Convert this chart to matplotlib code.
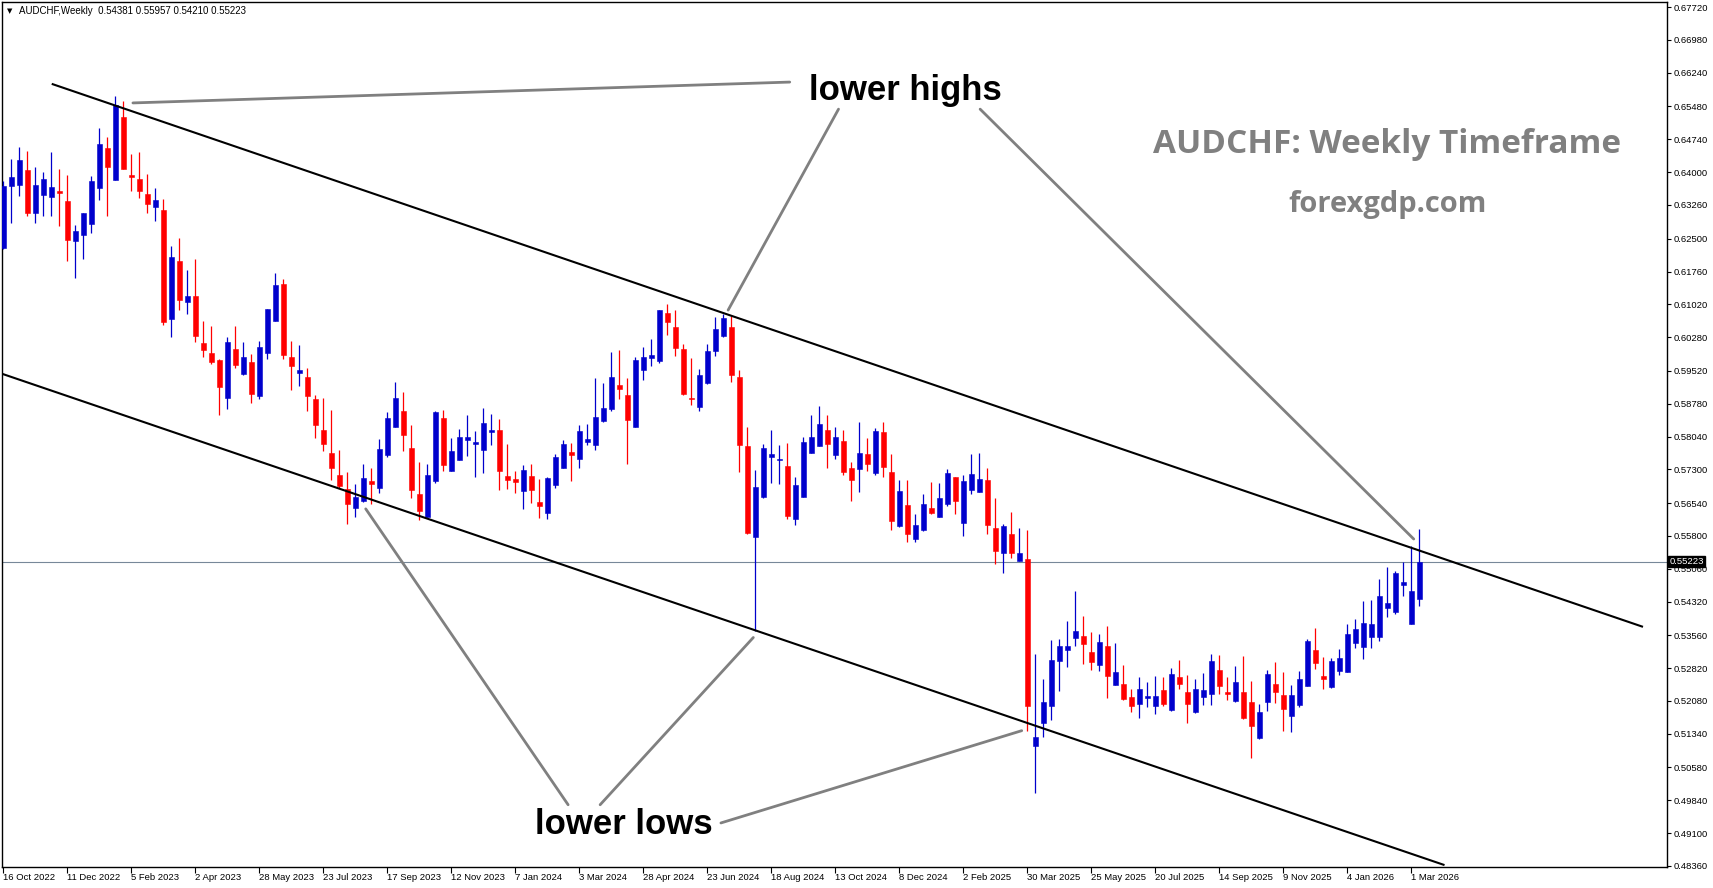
import matplotlib
matplotlib.use("Agg")
import matplotlib.pyplot as plt
import matplotlib.transforms as mtransforms
import numpy as np

# ---------------- data (AUDCHF weekly, first bar = week of 16 Oct 2022) -------------
opens = [0.6229, 0.6369, 0.6371, 0.6405, 0.6308, 0.6349, 0.6344, 0.6358, 0.6335, 0.6245,
         0.6258, 0.6283, 0.6364, 0.6454, 0.6382, 0.6524, 0.6394, 0.6385, 0.6351, 0.6321,
         0.6315, 0.6069, 0.6200, 0.6107, 0.6121, 0.6015, 0.5992, 0.5977, 0.5891, 0.6001,
         0.5945, 0.5972, 0.5895, 0.5992, 0.6065, 0.6148, 0.5983, 0.5947, 0.5938, 0.5889,
         0.5819, 0.5767, 0.5717, 0.5686, 0.5643, 0.5659, 0.5704, 0.5688, 0.5762, 0.5826,
         0.5862, 0.5778, 0.5675, 0.5623, 0.5704, 0.5846, 0.5726, 0.5751, 0.5796, 0.5787,
         0.5774, 0.5814, 0.5819, 0.5715, 0.5708, 0.5681, 0.5715, 0.5657, 0.5632, 0.5695,
         0.5733, 0.5769, 0.5753, 0.5792, 0.5785, 0.5839, 0.5866, 0.5920, 0.5898, 0.5826,
         0.5954, 0.5981, 0.5974, 0.6083, 0.6051, 0.6001, 0.5891, 0.5871, 0.5925, 0.5997,
         0.6031, 0.6051, 0.5938, 0.5783, 0.5578, 0.5668, 0.5758, 0.5751, 0.5738, 0.5618,
         0.5668, 0.5767, 0.5783, 0.5819, 0.5762, 0.5794, 0.5733, 0.5731, 0.5765, 0.5722,
         0.5814, 0.5724, 0.5602, 0.5650, 0.5573, 0.5593, 0.5643, 0.5623, 0.5652, 0.5713,
         0.5609, 0.5684, 0.5679, 0.5706, 0.5598, 0.5542, 0.5584, 0.5524, 0.5528, 0.5107,
         0.5158, 0.5197, 0.5298, 0.5323, 0.5350, 0.5354, 0.5318, 0.5289, 0.5332, 0.5244,
         0.5246, 0.5217, 0.5201, 0.5215, 0.5197, 0.5233, 0.5188, 0.5262, 0.5228, 0.5183,
         0.5217, 0.5224, 0.5278, 0.5228, 0.5208, 0.5228, 0.5206, 0.5125, 0.5206, 0.5246,
         0.5222, 0.5174, 0.5199, 0.5242, 0.5323, 0.5264, 0.5240, 0.5276, 0.5273, 0.5339,
         0.5330, 0.5352, 0.5352, 0.5418, 0.5409, 0.5469, 0.5382, 0.54381]
highs = [0.6380, 0.6430, 0.6457, 0.6448, 0.6412, 0.6400, 0.6445, 0.6407, 0.6394, 0.6281,
         0.6308, 0.6391, 0.6500, 0.6479, 0.6572, 0.6560, 0.6441, 0.6445, 0.6396, 0.6364,
         0.6340, 0.6234, 0.6252, 0.6179, 0.6204, 0.6065, 0.6053, 0.5979, 0.6028, 0.6053,
         0.6017, 0.5990, 0.6019, 0.6092, 0.6173, 0.6159, 0.6019, 0.6010, 0.5959, 0.5898,
         0.5891, 0.5864, 0.5774, 0.5724, 0.5697, 0.5742, 0.5733, 0.5799, 0.5859, 0.5927,
         0.5904, 0.5830, 0.5747, 0.5742, 0.5862, 0.5864, 0.5801, 0.5821, 0.5853, 0.5817,
         0.5868, 0.5855, 0.5844, 0.5787, 0.5726, 0.5740, 0.5742, 0.5708, 0.5713, 0.5765,
         0.5796, 0.5790, 0.5830, 0.5832, 0.5936, 0.5925, 0.5995, 0.5999, 0.5936, 0.5983,
         0.6006, 0.6024, 0.6089, 0.6103, 0.6089, 0.6013, 0.5981, 0.5956, 0.6013, 0.6073,
         0.6080, 0.6076, 0.5954, 0.5826, 0.5729, 0.5787, 0.5819, 0.5785, 0.5790, 0.5713,
         0.5803, 0.5853, 0.5873, 0.5853, 0.5826, 0.5819, 0.5747, 0.5837, 0.5801, 0.5823,
         0.5837, 0.5765, 0.5706, 0.5706, 0.5629, 0.5675, 0.5702, 0.5699, 0.5731, 0.5713,
         0.5717, 0.5765, 0.5767, 0.5733, 0.5666, 0.5607, 0.5634, 0.5598, 0.5593, 0.5314,
         0.5258, 0.5345, 0.5348, 0.5388, 0.5456, 0.5400, 0.5363, 0.5359, 0.5377, 0.5339,
         0.5289, 0.5235, 0.5262, 0.5251, 0.5264, 0.5262, 0.5282, 0.5300, 0.5267, 0.5258,
         0.5271, 0.5314, 0.5312, 0.5262, 0.5287, 0.5309, 0.5253, 0.5201, 0.5278, 0.5296,
         0.5273, 0.5244, 0.5276, 0.5348, 0.5373, 0.5307, 0.5305, 0.5325, 0.5382, 0.5393,
         0.5433, 0.5436, 0.5483, 0.5510, 0.5501, 0.5521, 0.5557, 0.55957]
lows = [0.6227, 0.6285, 0.6346, 0.6301, 0.6285, 0.6301, 0.6301, 0.6279, 0.6200, 0.6161,
        0.6204, 0.6263, 0.6337, 0.6301, 0.6382, 0.6407, 0.6358, 0.6342, 0.6308, 0.6290,
        0.6055, 0.6028, 0.6089, 0.6080, 0.6017, 0.5983, 0.5968, 0.5853, 0.5866, 0.5959,
        0.5943, 0.5880, 0.5889, 0.5979, 0.6065, 0.5979, 0.5909, 0.5918, 0.5862, 0.5801,
        0.5771, 0.5706, 0.5688, 0.5607, 0.5623, 0.5657, 0.5652, 0.5677, 0.5758, 0.5826,
        0.5771, 0.5666, 0.5616, 0.5623, 0.5699, 0.5726, 0.5726, 0.5751, 0.5760, 0.5713,
        0.5722, 0.5785, 0.5684, 0.5686, 0.5677, 0.5641, 0.5654, 0.5620, 0.5618, 0.5688,
        0.5733, 0.5704, 0.5733, 0.5785, 0.5774, 0.5837, 0.5862, 0.5889, 0.5742, 0.5826,
        0.5932, 0.5963, 0.5970, 0.6033, 0.5986, 0.5898, 0.5875, 0.5862, 0.5922, 0.5986,
        0.6028, 0.5927, 0.5724, 0.5584, 0.5366, 0.5666, 0.5699, 0.5697, 0.5618, 0.5605,
        0.5668, 0.5767, 0.5783, 0.5733, 0.5753, 0.5717, 0.5659, 0.5679, 0.5726, 0.5717,
        0.5713, 0.5593, 0.5600, 0.5566, 0.5566, 0.5591, 0.5629, 0.5623, 0.5647, 0.5629,
        0.5580, 0.5675, 0.5679, 0.5584, 0.5517, 0.5497, 0.5530, 0.5524, 0.5140, 0.5001,
        0.5127, 0.5165, 0.5231, 0.5285, 0.5332, 0.5291, 0.5278, 0.5276, 0.5215, 0.5244,
        0.5210, 0.5183, 0.5170, 0.5194, 0.5179, 0.5197, 0.5185, 0.5235, 0.5158, 0.5181,
        0.5199, 0.5199, 0.5224, 0.5210, 0.5206, 0.5167, 0.5080, 0.5122, 0.5185, 0.5203,
        0.5140, 0.5138, 0.5194, 0.5242, 0.5280, 0.5235, 0.5237, 0.5267, 0.5273, 0.5327,
        0.5303, 0.5327, 0.5343, 0.5397, 0.5404, 0.5445, 0.5382, 0.54210]
closes = [0.6369, 0.6389, 0.6427, 0.6308, 0.6371, 0.6385, 0.6367, 0.6353, 0.6247, 0.6267,
          0.6308, 0.6380, 0.6463, 0.6412, 0.6551, 0.6407, 0.6389, 0.6358, 0.6328, 0.6337,
          0.6062, 0.6209, 0.6112, 0.6121, 0.6031, 0.5999, 0.5972, 0.5916, 0.6017, 0.5965,
          0.5983, 0.5900, 0.6006, 0.6092, 0.6146, 0.5988, 0.5963, 0.5954, 0.5895, 0.5830,
          0.5787, 0.5733, 0.5693, 0.5652, 0.5668, 0.5711, 0.5697, 0.5776, 0.5846, 0.5891,
          0.5808, 0.5684, 0.5636, 0.5717, 0.5859, 0.5740, 0.5771, 0.5803, 0.5803, 0.5792,
          0.5835, 0.5819, 0.5726, 0.5706, 0.5702, 0.5729, 0.5684, 0.5647, 0.5711, 0.5758,
          0.5787, 0.5762, 0.5817, 0.5799, 0.5848, 0.5868, 0.5938, 0.5911, 0.5841, 0.5977,
          0.5983, 0.5988, 0.6089, 0.6062, 0.6004, 0.5900, 0.5889, 0.5943, 0.5997, 0.6046,
          0.6071, 0.5943, 0.5785, 0.5587, 0.5690, 0.5778, 0.5765, 0.5753, 0.5625, 0.5695,
          0.5792, 0.5803, 0.5832, 0.5787, 0.5803, 0.5724, 0.5706, 0.5767, 0.5742, 0.5817,
          0.5735, 0.5614, 0.5681, 0.5584, 0.5605, 0.5652, 0.5632, 0.5666, 0.5722, 0.5659,
          0.5704, 0.5720, 0.5708, 0.5605, 0.5546, 0.5602, 0.5542, 0.5542, 0.5197, 0.5127,
          0.5206, 0.5300, 0.5332, 0.5332, 0.5366, 0.5336, 0.5296, 0.5341, 0.5264, 0.5273,
          0.5213, 0.5197, 0.5235, 0.5219, 0.5219, 0.5201, 0.5269, 0.5246, 0.5201, 0.5235,
          0.5233, 0.5298, 0.5242, 0.5224, 0.5251, 0.5170, 0.5152, 0.5183, 0.5269, 0.5228,
          0.5190, 0.5222, 0.5258, 0.5343, 0.5294, 0.5258, 0.5298, 0.5305, 0.5359, 0.5370,
          0.5384, 0.5382, 0.5445, 0.5429, 0.5497, 0.5476, 0.5456, 0.55223]

date_labels = ["16 Oct 2022", "11 Dec 2022", "5 Feb 2023", "2 Apr 2023", "28 May 2023",
               "23 Jul 2023", "17 Sep 2023", "12 Nov 2023", "7 Jan 2024", "3 Mar 2024",
               "28 Apr 2024", "23 Jun 2024", "18 Aug 2024", "13 Oct 2024", "8 Dec 2024",
               "2 Feb 2025", "30 Mar 2025", "25 May 2025", "20 Jul 2025", "14 Sep 2025",
               "9 Nov 2025", "4 Jan 2026", "1 Mar 2026"]
label_every = 8  # weeks between date labels

price_ticks = [0.48360, 0.49100, 0.49840, 0.50580, 0.51340, 0.52080, 0.52820, 0.53560,
               0.54320, 0.55060, 0.55800, 0.56540, 0.57300, 0.58040, 0.58780, 0.59520,
               0.60280, 0.61020, 0.61760, 0.62500, 0.63260, 0.64000, 0.64740, 0.65480,
               0.66240, 0.66980, 0.67720]
last_price = 0.55223

# channel lines: (bar index, price) pairs
upper_channel = [(6.05, 0.6599), (204.96, 0.5375)]
lower_channel = [(-0.41, 0.5947), (180.15, 0.4838)]

# annotation pointers: (from (bar, price), to (bar, price))
pointers = [((16.2, 0.6556), (98.3, 0.6603)),
            ((104.4, 0.6542), (90.6, 0.6089)),
            ((122.1, 0.6542), (176.3, 0.5573)),
            ((70.6, 0.4974), (45.3, 0.5641)),
            ((74.6, 0.4974), (93.75, 0.5351)),
            ((89.7, 0.4933), (127.3, 0.5141))]

# ---------------- figure -------------
W, H = 1713, 888
fig = plt.figure(figsize=(W / 100, H / 100), dpi=100)
ax = fig.add_axes([2 / W, 21 / H, 1665 / W, 865 / H])
ax.set_xlim(-0.166, 207.96)
ax.set_ylim(0.48337, 0.67835)

BLUE = "#0000CC"
RED = "#FF0000"
x = np.arange(len(opens))
o = np.array(opens); h = np.array(highs); l = np.array(lows); c = np.array(closes)
cols = [BLUE if cc >= oo else RED for oo, cc in zip(o, c)]

ax.vlines(x, l, h, colors=cols, linewidth=0.9, zorder=3)
body_bottom = np.minimum(o, c)
body_h = np.maximum(np.abs(c - o), 0.00002)
ax.bar(x, body_h, bottom=body_bottom, width=0.6, color=cols, edgecolor=cols,
       linewidth=0.4, zorder=4)

# last price line
ax.axhline(last_price, color="#778899", linewidth=0.8, zorder=2)

# channel lines
for line in (upper_channel, lower_channel):
    ax.plot([p[0] for p in line], [p[1] for p in line], color="black",
            linewidth=1.5, zorder=5, solid_capstyle="butt")

# annotation pointers
for (p0, p1) in pointers:
    ax.annotate("", xy=p1, xytext=p0,
                arrowprops=dict(arrowstyle="-", color="#808080", lw=2.0,
                                shrinkA=0, shrinkB=0), zorder=6)

ax.text(0.5428, 0.898, "lower highs", transform=ax.transAxes, ha="center",
        va="center", fontsize=25, fontweight="bold", family="Liberation Sans",
        color="black", zorder=7)
ax.text(0.3735, 0.049, "lower lows", transform=ax.transAxes, ha="center",
        va="center", fontsize=25, fontweight="bold", family="Liberation Sans",
        color="black", zorder=7)

ax.text(0.8318, 0.8258, "AUDCHF: Weekly Timeframe", transform=ax.transAxes,
        ha="center", va="baseline", fontsize=24, fontweight="bold",
        family="Open Sans", color="#808080", zorder=7)
ax.text(0.8323, 0.7576, "forexgdp.com", transform=ax.transAxes,
        ha="center", va="baseline", fontsize=21, fontweight="bold",
        family="Open Sans", color="#808080", zorder=7)

# header
ax.text(0.0032, 0.9895, "\u25BC", transform=ax.transAxes, ha="left", va="center",
        fontsize=5, family="DejaVu Sans", color="black")
ax.text(0.0103, 0.9895,
        "AUDCHF,Weekly  %.5f %.5f %.5f %.5f" % (opens[-1], highs[-1], lows[-1], closes[-1]),
        transform=ax.transAxes, ha="left", va="center", fontsize=7,
        family="Liberation Sans", color="black")

# axes styling
for s in ax.spines.values():
    s.set_color("black")
    s.set_linewidth(1.0)

ax.yaxis.tick_right()
ax.set_yticks(price_ticks)
ax.set_yticklabels(["%.5f" % v for v in price_ticks])
ax.tick_params(axis="y", which="both", direction="out", length=3, width=0.8,
               pad=1.5, labelsize=6.8, colors="black")
for t in ax.get_yticklabels():
    t.set_family("Liberation Sans")

xt = np.arange(0, len(date_labels) * label_every, label_every)
ax.set_xticks(xt)
ax.set_xticklabels(date_labels, ha="left")
ax.tick_params(axis="x", direction="out", length=4, width=0.8, pad=0.5,
               labelsize=6.8, colors="black")
for t in ax.get_xticklabels():
    t.set_family("Liberation Sans")

# price label on axis
tr = mtransforms.blended_transform_factory(ax.transAxes, ax.transData)
ax.text(1.0015, last_price, "%.5f" % last_price, transform=tr, ha="left", va="center",
        fontsize=6.8, family="Liberation Sans", color="white", clip_on=False,
        bbox=dict(boxstyle="square,pad=0.15", facecolor="black", edgecolor="black"),
        zorder=10)

fig.savefig("out.png", dpi=100, facecolor="white")
